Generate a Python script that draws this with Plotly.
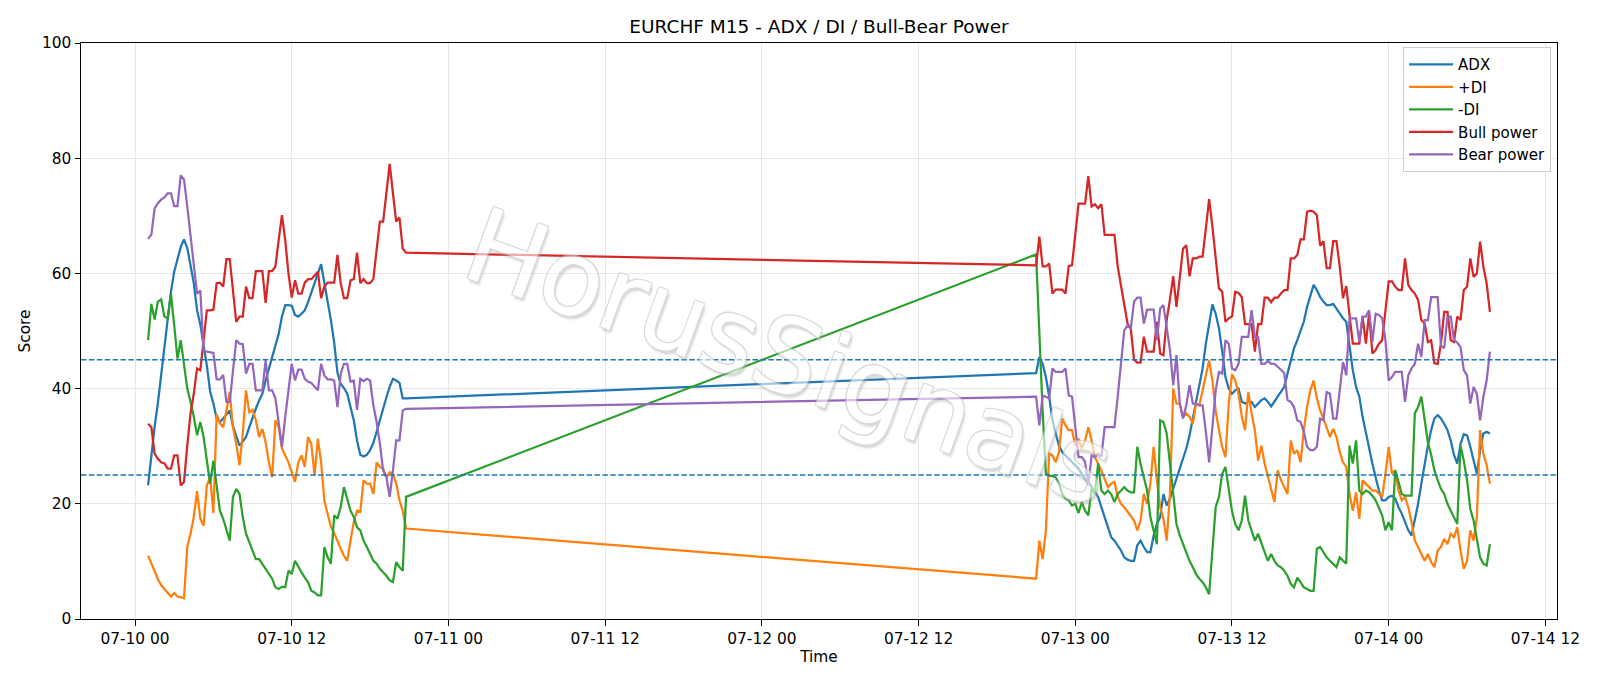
import pandas as pd
import plotly.graph_objects as go

# ---------------- data ----------------
seg1_start = "2020-07-10 01:00"   # Friday session, 15-min bars
seg2_start = "2020-07-12 21:00"   # Sunday re-open, 15-min bars

adx_1 = [23.2, 28.7, 33.4, 37.5, 42.1, 46.8, 52.1, 56.8, 60.3, 62.7,
         64.6, 65.9, 64.4, 61.4, 58.3, 53.6, 51.1, 47.5, 44.0, 39.5,
         37.4, 34.8, 34.2, 34.8, 35.5, 36.2, 33.5, 31.8, 30.1, 30.8,
         31.6, 33.3, 35.1, 36.5, 37.9, 39.1, 41.4, 43.4, 45.2, 47.5,
         49.5, 52.5, 54.5, 54.5, 54.4, 52.8, 52.5, 53.0, 53.6, 55.0,
         56.6, 58.2, 60.0, 61.6, 58.3, 55.4, 51.9, 48.0, 42.8, 40.8,
         40.1, 39.1, 37.0, 34.5, 31.0, 28.5, 28.2, 28.5, 29.3, 30.6,
         32.5, 34.5, 36.9, 38.5, 40.3, 41.7, 41.4, 41.0, 38.3, 38.3]
adx_2 = [42.7, 45.5, 44.3, 42.0, 38.6, 34.5, 32.2, 30.1, 29.0, 28.4,
         27.8, 27.2, 26.7, 26.1, 25.2, 24.3, 23.8, 22.9, 22.0, 21.2,
         19.4, 17.7, 15.9, 14.2, 13.6, 12.8, 11.9, 10.7, 10.3, 10.1,
         10.1, 12.8, 13.6, 12.5, 11.6, 11.6, 14.5, 16.5, 17.7, 21.7,
         19.7, 20.9, 22.6, 24.1, 25.8, 27.5, 29.6, 31.9, 34.5, 37.7,
         40.6, 43.5, 47.8, 51.5, 54.6, 53.0, 50.5, 46.5, 42.0, 40.0,
         39.1, 39.7, 40.0, 37.7, 37.4, 37.7, 37.7, 36.8, 37.4, 38.0,
         38.3, 37.7, 36.9, 37.7, 38.6, 39.4, 40.3, 42.6, 44.6, 47.0,
         48.4, 50.1, 51.6, 54.2, 56.0, 58.0, 57.1, 55.9, 55.1, 54.5,
         54.5, 54.7, 53.9, 53.0, 52.2, 51.6, 47.2, 43.2, 40.3, 38.6,
         35.1, 32.2, 29.3, 27.0, 24.6, 22.3, 20.6, 20.6, 21.2, 21.4,
         20.9, 19.4, 18.3, 16.8, 15.4, 14.5, 17.1, 20.0, 23.5, 27.0,
         30.1, 32.8, 34.8, 35.4, 34.8, 33.9, 32.8, 31.0, 28.5, 27.0,
         30.4, 32.1, 31.9, 29.9, 27.5, 25.2, 29.3, 32.2, 32.5, 32.2]

pdi_1 = [11.0, 9.8, 8.3, 6.9, 5.9, 5.2, 4.5, 3.9, 4.5, 3.9,
         3.8, 3.6, 12.5, 14.8, 17.7, 22.2, 17.4, 16.2, 23.2, 24.6,
         18.4, 35.5, 34.0, 33.3, 36.2, 39.4, 33.3, 30.4, 26.7, 32.2,
         39.7, 35.9, 36.3, 34.5, 31.6, 33.0, 30.7, 27.2, 24.6, 34.5,
         33.3, 29.6, 28.4, 27.2, 25.5, 23.8, 27.2, 28.4, 26.4, 31.6,
         30.4, 24.9, 31.3, 27.2, 20.5, 18.0, 16.0, 14.9, 13.4, 12.2,
         11.0, 10.1, 13.6, 16.8, 18.8, 18.6, 24.1, 23.5, 23.5, 21.7,
         27.2, 26.4, 26.1, 24.6, 25.5, 25.2, 23.5, 20.6, 18.8, 15.7]
pdi_2 = [7.0, 13.6, 10.4, 15.4, 28.7, 28.4, 27.2, 29.0, 34.8, 33.6,
         32.8, 32.8, 30.1, 31.3, 29.6, 31.0, 33.3, 31.0, 28.1, 27.0,
         25.8, 24.3, 22.9, 23.5, 23.8, 21.2, 20.0, 19.4, 18.6, 17.7,
         17.1, 15.4, 17.1, 21.7, 20.0, 23.5, 29.9, 24.1, 19.4, 17.4,
         13.6, 21.7, 40.0, 37.4, 37.4, 35.1, 35.7, 35.1, 33.9, 37.4,
         37.1, 39.7, 42.3, 44.9, 41.4, 36.2, 32.8, 29.9, 28.1, 37.4,
         42.5, 41.4, 39.1, 35.1, 32.8, 39.4, 35.7, 32.8, 27.5, 30.1,
         27.0, 24.6, 22.3, 20.3, 25.8, 24.1, 22.9, 21.7, 31.0, 28.7,
         29.3, 27.2, 32.8, 36.8, 39.7, 41.4, 38.3, 36.2, 34.8, 33.3,
         31.6, 33.0, 31.6, 29.0, 27.2, 26.4, 21.7, 18.8, 22.0, 17.4,
         24.1, 23.5, 22.9, 22.3, 22.3, 21.7, 21.2, 25.2, 29.9, 25.2,
         25.8, 22.3, 20.6, 21.2, 19.4, 16.8, 13.6, 12.5, 11.3, 10.1,
         11.3, 9.9, 9.0, 11.9, 12.5, 13.9, 13.0, 14.8, 14.2, 15.9,
         11.9, 8.7, 10.1, 15.4, 13.6, 17.7, 32.8, 28.7, 26.7, 23.5]

mdi_1 = [48.4, 54.7, 52.0, 55.1, 55.5, 52.5, 52.2, 56.4, 51.0, 45.2,
         48.4, 43.8, 40.0, 37.7, 35.1, 31.9, 34.2, 31.6, 27.5, 23.5,
         27.5, 22.9, 18.8, 17.4, 15.4, 13.6, 21.2, 22.6, 21.7, 17.7,
         14.8, 13.3, 11.9, 10.4, 10.4, 9.6, 8.7, 7.8, 7.0, 5.5,
         5.2, 5.6, 5.5, 8.4, 7.8, 10.1, 9.0, 8.1, 7.2, 6.4,
         4.9, 4.6, 4.1, 4.1, 12.5, 10.7, 9.6, 18.0, 17.4, 19.5,
         22.9, 20.9, 18.8, 17.7, 15.9, 15.4, 13.6, 12.5, 11.3, 10.1,
         9.6, 8.7, 8.1, 7.5, 6.7, 6.4, 9.9, 9.0, 8.4, 21.2]
mdi_2 = [63.3, 49.0, 36.0, 25.2, 24.9, 24.8, 24.6, 23.5, 21.7, 20.9,
         20.6, 19.7, 20.0, 18.4, 20.3, 18.8, 18.0, 22.6, 21.7, 27.0,
         22.3, 21.7, 22.3, 21.7, 20.3, 21.7, 22.3, 22.9, 22.3, 22.0,
         22.0, 29.9, 26.9, 24.6, 22.3, 17.7, 15.4, 13.0, 34.5, 34.2,
         32.2, 27.0, 21.7, 16.5, 14.5, 13.0, 11.6, 10.1, 9.0, 7.8,
         7.0, 6.4, 5.5, 4.3, 11.9, 19.4, 21.2, 25.2, 26.4, 22.5,
         18.7, 16.5, 15.4, 17.1, 21.4, 17.1, 15.4, 13.6, 14.8, 13.0,
         11.6, 10.1, 11.3, 10.1, 9.3, 9.0, 8.4, 7.5, 6.1, 5.5,
         7.2, 6.4, 5.5, 5.2, 4.9, 4.9, 12.2, 12.5, 11.6, 10.7,
         10.1, 9.6, 9.0, 10.7, 10.1, 9.6, 30.1, 27.0, 31.0, 22.3,
         21.7, 22.3, 22.0, 21.4, 20.6, 19.4, 18.0, 15.4, 16.8, 15.4,
         25.8, 23.8, 21.7, 21.4, 21.4, 21.4, 35.7, 36.8, 38.6, 34.2,
         30.7, 28.5, 25.8, 24.1, 22.6, 21.7, 20.0, 18.8, 17.7, 16.5,
         30.1, 27.5, 24.1, 19.1, 17.1, 14.2, 10.7, 9.6, 9.3, 13.0]

bull_1 = [33.9, 33.3, 28.7, 27.8, 27.2, 27.0, 26.1, 26.1, 28.4, 28.4,
          23.2, 23.8, 30.1, 35.7, 39.1, 43.5, 43.2, 48.4, 53.6, 53.6,
          53.7, 58.3, 58.4, 57.7, 62.5, 62.5, 57.1, 51.6, 52.5, 52.5,
          57.7, 55.7, 55.7, 60.4, 60.4, 60.4, 54.9, 60.4, 60.4, 61.2,
          65.8, 70.1, 65.8, 60.0, 55.8, 58.8, 56.5, 56.5, 58.4, 59.0,
          59.0, 59.7, 60.3, 55.7, 57.7, 58.4, 58.4, 58.4, 63.2, 58.3,
          55.7, 55.7, 58.8, 59.0, 63.6, 58.3, 59.0, 58.3, 58.3, 59.0,
          64.1, 69.0, 69.0, 73.9, 79.0, 73.9, 69.0, 69.7, 64.3, 63.6]
bull_2 = [61.4, 66.4, 61.2, 61.2, 61.7, 56.5, 57.2, 57.2, 57.2, 56.5,
          61.3, 61.4, 66.8, 72.1, 72.1, 72.1, 76.9, 71.6, 72.0, 71.3,
          72.0, 66.7, 66.7, 66.7, 66.7, 61.2, 57.8, 54.4, 51.3, 50.4,
          45.0, 44.5, 44.5, 49.0, 46.4, 46.4, 46.4, 51.6, 46.1, 45.8,
          51.9, 55.5, 59.5, 54.2, 58.8, 64.3, 64.9, 59.5, 62.6, 62.6,
          62.9, 62.9, 67.8, 72.9, 68.1, 62.9, 57.4, 56.8, 51.6, 52.2,
          52.5, 56.8, 56.6, 55.9, 51.2, 51.2, 51.2, 46.4, 51.2, 51.2,
          55.8, 55.8, 55.0, 55.8, 55.8, 56.5, 57.1, 57.1, 62.6, 62.6,
          63.2, 65.9, 65.9, 70.7, 70.9, 70.7, 70.1, 64.8, 65.6, 60.9,
          60.9, 65.6, 65.6, 61.2, 55.7, 57.8, 52.5, 47.8, 47.8, 47.8,
          52.5, 47.8, 53.0, 46.1, 46.7, 47.8, 48.4, 53.3, 58.6, 58.6,
          57.7, 57.1, 57.1, 62.6, 58.0, 57.1, 56.5, 55.4, 51.9, 51.3,
          48.1, 48.4, 44.4, 44.3, 47.8, 53.3, 53.3, 48.4, 48.1, 52.5,
          51.9, 57.1, 57.7, 62.6, 59.4, 60.0, 65.5, 61.2, 58.3, 53.3]

bear_1 = [66.0, 66.7, 71.3, 72.2, 72.8, 73.2, 73.9, 73.9, 71.7, 71.7,
          77.0, 76.3, 71.6, 66.4, 61.2, 56.5, 57.0, 46.4, 46.4, 46.3,
          46.2, 41.6, 41.6, 42.4, 37.7, 37.7, 43.0, 48.4, 47.8, 47.7,
          42.6, 44.3, 44.3, 39.7, 39.7, 39.7, 44.9, 39.7, 39.7, 38.3,
          34.1, 29.9, 35.1, 40.3, 44.3, 41.4, 43.3, 43.3, 41.7, 41.2,
          41.0, 40.3, 39.7, 44.3, 42.3, 41.6, 41.6, 41.4, 36.8, 42.6,
          44.3, 44.3, 41.2, 41.4, 36.3, 41.7, 41.3, 41.7, 41.4, 37.1,
          34.2, 30.4, 25.8, 24.6, 21.2, 25.8, 31.0, 31.0, 36.2, 36.5]
bear_2 = [38.6, 33.6, 38.8, 38.6, 38.3, 43.5, 42.9, 42.9, 42.9, 43.5,
          38.8, 38.6, 33.3, 28.1, 28.1, 27.3, 23.2, 28.4, 28.1, 28.7,
          28.2, 33.3, 33.3, 33.3, 33.3, 38.6, 44.6, 50.1, 51.0, 50.4,
          55.1, 55.8, 55.8, 51.3, 53.7, 53.7, 53.7, 48.4, 53.9, 54.5,
          50.7, 46.7, 40.6, 45.8, 37.4, 34.8, 37.1, 40.6, 37.4, 37.4,
          37.1, 37.1, 32.5, 27.2, 33.3, 39.7, 42.9, 42.6, 48.4, 47.8,
          43.5, 43.2, 44.3, 49.0, 49.0, 49.0, 53.6, 49.0, 49.0, 44.3,
          44.3, 44.8, 44.3, 44.3, 43.8, 43.2, 42.7, 38.0, 37.7, 36.8,
          34.5, 34.2, 32.5, 29.9, 29.3, 29.3, 29.9, 34.8, 34.5, 39.4,
          39.1, 34.8, 34.8, 39.7, 44.6, 42.3, 52.2, 52.2, 52.2, 48.1,
          52.5, 52.5, 53.6, 48.1, 53.0, 52.8, 52.2, 48.4, 41.4, 42.0,
          42.9, 42.9, 42.9, 37.7, 42.3, 43.5, 44.3, 47.8, 45.5, 51.9,
          51.9, 55.9, 55.9, 55.9, 47.5, 47.0, 52.5, 52.5, 48.4, 48.0,
          47.2, 43.2, 42.3, 37.4, 40.3, 39.1, 34.5, 38.6, 41.4, 46.4]

series_names = ["ADX", "+DI", "-DI", "Bull power", "Bear power"]
series_colors = ["#1f77b4", "#ff7f0e", "#2ca02c", "#d62728", "#9467bd"]
threshold_levels = [45, 25]
y_ticks = [0, 20, 40, 60, 80, 100]
x_range = ["2020-07-09 19:51:45", "2020-07-14 12:53:15"]

# ---------------- build ----------------
times = (list(pd.date_range(seg1_start, periods=len(adx_1), freq="15min")) +
         list(pd.date_range(seg2_start, periods=len(adx_2), freq="15min")))
series = [adx_1 + adx_2, pdi_1 + pdi_2, mdi_1 + mdi_2, bull_1 + bull_2, bear_1 + bear_2]

FONT = "DejaVu Sans"
FS = 15.4
fig = go.Figure()
for name, color, vals in zip(series_names, series_colors, series):
    fig.add_trace(go.Scatter(x=times, y=vals, mode="lines", name=name,
                             line=dict(color=color, width=2.25)))

for lvl in threshold_levels:
    fig.add_shape(type="line", xref="paper", x0=0, x1=1, yref="y", y0=lvl, y1=lvl,
                  line=dict(color="#1f77b4", width=1.5, dash="5.5px,2.4px"), layer="above")

outline = "#c2c2c2"
fig.add_annotation(
    text="HorusSignals", xref="paper", yref="paper", x=0.48, y=0.455,
    showarrow=False, textangle=20, opacity=0.6,
    font=dict(family=FONT, size=104, color="white",
              shadow=(f"-1px -1px 0 {outline}, 1px -1px 0 {outline}, "
                      f"-1px 1px 0 {outline}, 1px 1px 0 {outline}, "
                      "3px 3px 2px rgba(165,165,165,0.7)")))

axis_common = dict(showline=True, linecolor="black", linewidth=1.2, mirror=True,
                   ticks="outside", ticklen=5.4, tickwidth=1.2, tickcolor="black",
                   showgrid=True, gridcolor="#e7e7e7", gridwidth=1.2, zeroline=False,
                   tickfont=dict(family=FONT, size=FS, color="black"))

fig.update_layout(
    width=1600, height=686,
    margin=dict(l=81, r=43, t=43, b=67),
    paper_bgcolor="white", plot_bgcolor="white",
    title=dict(text="EURCHF M15 - ADX / DI / Bull-Bear Power", x=0.5, xref="paper",
               y=1 - 26.5 / 686, yref="container", yanchor="middle", xanchor="center",
               font=dict(family=FONT, size=18.5, color="black")),
    xaxis=dict(type="date", range=x_range, tickformat="%m-%d %H", dtick=12 * 3600 * 1000,
               tick0="2020-07-10 00:00",
               title=dict(text="Time", font=dict(family=FONT, size=FS, color="black"), standoff=4),
               **axis_common),
    yaxis=dict(range=[0, 100], tickvals=y_ticks,
               title=dict(text="Score", font=dict(family=FONT, size=FS, color="black"), standoff=7),
               **axis_common),
    legend=dict(x=0.996, y=0.993, xanchor="right", yanchor="top", itemwidth=44,
                bgcolor="rgba(255,255,255,0.8)", bordercolor="#cccccc", borderwidth=1,
                font=dict(family=FONT, size=15, color="black")),
    showlegend=True,
)

fig.write_html("out.html")
